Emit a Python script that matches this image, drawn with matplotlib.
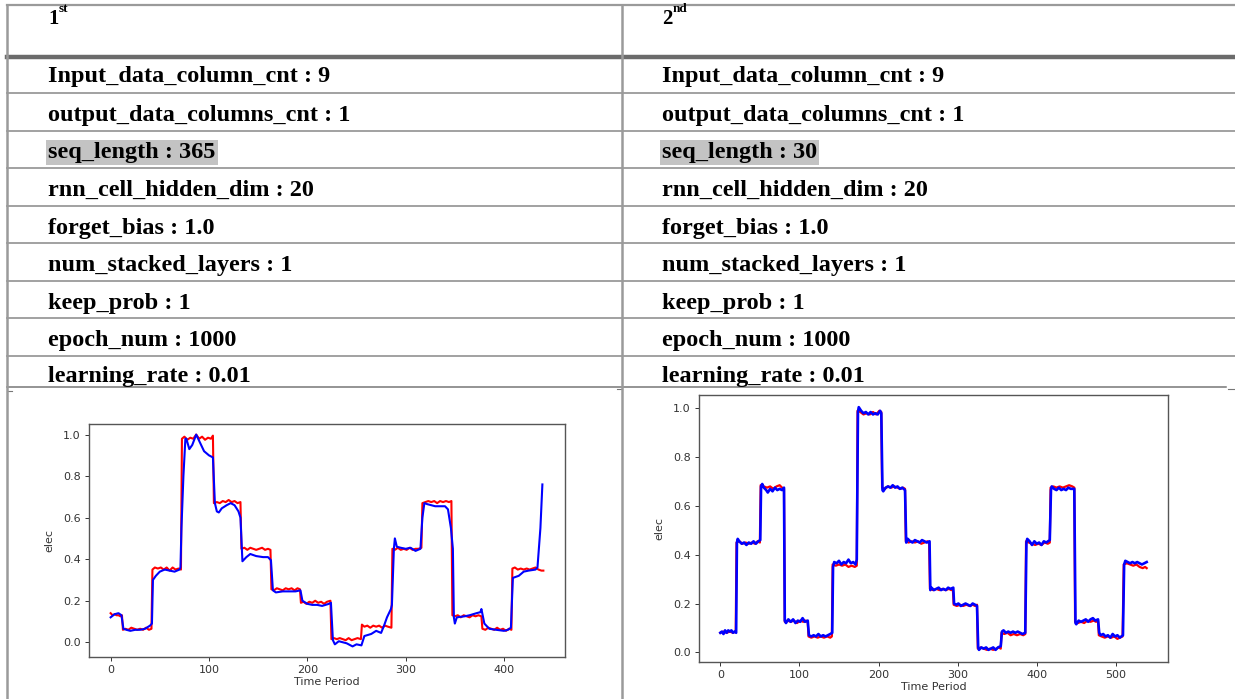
import matplotlib
matplotlib.use("Agg")
import matplotlib.pyplot as plt
from matplotlib.lines import Line2D

# ---- table text ----
headers = ["1", "2"]
header_sups = ["st", "nd"]
param_names = ["Input_data_column_cnt", "output_data_columns_cnt", "seq_length",
               "rnn_cell_hidden_dim", "forget_bias", "num_stacked_layers",
               "keep_prob", "epoch_num", "learning_rate"]
params_first = ["9", "1", "365", "20", "1.0", "1", "1", "1000", "0.01"]
params_second = ["9", "1", "30", "20", "1.0", "1", "1", "1000", "0.01"]
highlight_row = "seq_length"

# ---- left plot (seq_length 365) ----
left_actual_t = [0, 2, 4, 6, 8, 10, 11.5,
                 12.5, 15, 18, 21, 24, 27, 30, 33, 36, 39, 41.5,
                 42.5, 45, 48, 51, 54, 57, 60, 63, 66, 69, 71.5,
                 72.5, 75, 78, 81, 84, 87, 90, 93, 96, 99, 102, 104,
                 105, 108, 111, 114, 117, 120, 123, 126, 129, 132,
                 133, 136, 139, 142, 145, 148, 151, 154, 157, 160, 162.5,
                 163.5, 166, 169, 172, 175, 178, 181, 184, 187, 190, 192.5,
                 193.5, 196, 199, 202, 205, 208, 211, 214, 217, 220, 223.5,
                 224.5, 227, 230, 233, 236, 239, 242, 245, 248, 251, 254.5,
                 255.5, 258, 261, 264, 267, 270, 273, 276, 279, 282, 285.5,
                 286.5, 289, 292, 295, 298, 301, 304, 307, 310, 313, 316,
                 317, 320, 323, 326, 329, 332, 335, 338, 341, 344, 346.5,
                 347.5, 350, 353, 356, 359, 362, 365, 368, 371, 374, 377,
                 378, 381, 384, 387, 390, 393, 396, 399, 402, 405, 407.5,
                 408.5, 411, 414, 417, 420, 423, 426, 429, 432, 435, 438, 440]
left_actual = [0.14, 0.13, 0.135, 0.13, 0.13, 0.125, 0.13,
               0.06, 0.065, 0.06, 0.07, 0.065, 0.06, 0.065, 0.06, 0.07, 0.06, 0.065,
               0.35, 0.36, 0.355, 0.36, 0.35, 0.36, 0.345, 0.36, 0.35, 0.355, 0.35,
               0.98, 0.99, 0.975, 0.985, 0.98, 1.0, 0.98, 0.99, 0.975, 0.985, 0.98, 0.995,
               0.67, 0.675, 0.67, 0.68, 0.675, 0.685, 0.675, 0.68, 0.67, 0.675,
               0.45, 0.455, 0.445, 0.455, 0.45, 0.445, 0.45, 0.455, 0.445, 0.45, 0.445,
               0.255, 0.25, 0.26, 0.255, 0.25, 0.26, 0.255, 0.26, 0.25, 0.26, 0.255,
               0.19, 0.195, 0.185, 0.195, 0.19, 0.2, 0.19, 0.195, 0.185, 0.195, 0.2,
               0.015, 0.02, 0.015, 0.02, 0.015, 0.01, 0.02, 0.01, 0.015, 0.02, 0.015,
               0.085, 0.075, 0.08, 0.07, 0.08, 0.075, 0.08, 0.07, 0.08, 0.075, 0.07,
               0.45, 0.445, 0.455, 0.445, 0.45, 0.445, 0.455, 0.445, 0.45, 0.45, 0.455,
               0.67, 0.675, 0.68, 0.675, 0.68, 0.67, 0.68, 0.675, 0.68, 0.675, 0.68,
               0.13, 0.125, 0.13, 0.12, 0.13, 0.125, 0.12, 0.13, 0.125, 0.13, 0.125,
               0.065, 0.06, 0.07, 0.065, 0.06, 0.07, 0.06, 0.065, 0.055, 0.065, 0.06,
               0.355, 0.36, 0.35, 0.355, 0.35, 0.355, 0.35, 0.355, 0.36, 0.35, 0.345, 0.345]

left_pred_t = [0, 4, 8, 11, 13, 16, 20, 25, 30, 35, 40, 42,
               43, 46, 50, 55, 60, 65, 70, 71, 72, 74, 76,
               77, 80, 83, 87, 90, 95, 100, 104, 106, 108, 110, 113, 118, 122, 126, 130, 132,
               134, 138, 142, 148, 155, 160, 163, 165, 168, 175, 182, 188, 193,
               195, 200, 205, 210, 215, 222, 224, 226, 228, 232, 240, 246, 250, 255,
               258, 265, 270, 275, 278, 281, 285, 286, 288, 289, 291, 295, 300, 305, 310, 315,
               317, 319, 322, 330, 340, 343, 346, 348, 349, 350, 352, 360, 365, 372, 376, 377,
               380, 385, 392, 400, 404, 407, 409, 415, 420, 425, 432, 434, 437, 439]
left_pred = [0.12, 0.135, 0.14, 0.13, 0.065, 0.06, 0.055, 0.06, 0.06, 0.065, 0.08, 0.09,
             0.3, 0.32, 0.34, 0.35, 0.345, 0.34, 0.35, 0.36, 0.55, 0.8, 0.98,
             0.98, 0.93, 0.95, 1.0, 0.97, 0.92, 0.9, 0.89, 0.67, 0.63, 0.625, 0.645, 0.66, 0.67, 0.66, 0.63, 0.6,
             0.39, 0.41, 0.425, 0.415, 0.41, 0.41, 0.395, 0.25, 0.24, 0.245, 0.245, 0.245, 0.25,
             0.2, 0.185, 0.18, 0.18, 0.175, 0.185, 0.19, 0.01, -0.01, 0.005, -0.005, -0.02, -0.01, -0.015,
             0.03, 0.04, 0.055, 0.045, 0.08, 0.12, 0.16, 0.18, 0.45, 0.5, 0.46, 0.455, 0.45, 0.455, 0.44, 0.45,
             0.6, 0.67, 0.665, 0.655, 0.655, 0.64, 0.55, 0.45, 0.12, 0.09, 0.12, 0.125, 0.13, 0.14, 0.145, 0.16,
             0.09, 0.065, 0.06, 0.055, 0.06, 0.07, 0.31, 0.32, 0.34, 0.345, 0.35, 0.36, 0.55, 0.76]

# ---- right plot (seq_length 30) ----
right_actual_t = [0, 4, 8, 12, 16, 19.5,
                  20.5, 24, 28, 32, 36, 40, 44, 47, 50,
                  51, 55, 59, 63, 67, 71, 75, 78, 80.5,
                  81.5, 85, 89, 93, 97, 101, 105, 108, 110.5,
                  111.5, 115, 119, 123, 127, 131, 135, 139, 141,
                  142, 146, 150, 154, 158, 162, 166, 170, 172.5,
                  173.5, 177, 181, 185, 189, 193, 197, 201, 203.5,
                  204.5, 208, 212, 216, 220, 224, 228, 231, 233.5,
                  234.5, 238, 242, 246, 250, 254, 258, 262, 264,
                  265, 269, 273, 277, 281, 285, 289, 292, 294,
                  295, 299, 303, 307, 311, 315, 319, 322, 324.5,
                  325.5, 329, 333, 337, 341, 345, 349, 352, 354.5,
                  355.5, 359, 363, 367, 371, 375, 379, 383, 385.5,
                  386.5, 390, 394, 398, 402, 406, 410, 414, 416.5,
                  417.5, 421, 425, 429, 433, 437, 441, 445, 447.5,
                  448.5, 452, 456, 460, 464, 468, 472, 475, 477.5,
                  478.5, 482, 486, 490, 494, 498, 502, 505, 508.5,
                  510, 514, 518, 522, 526, 530, 534, 537, 539]
right_actual = [0.08, 0.085, 0.08, 0.085, 0.08, 0.085,
                0.45, 0.455, 0.445, 0.45, 0.445, 0.45, 0.445, 0.455, 0.45,
                0.685, 0.68, 0.675, 0.68, 0.67, 0.68, 0.685, 0.675, 0.67,
                0.125, 0.13, 0.125, 0.13, 0.12, 0.13, 0.125, 0.13, 0.125,
                0.065, 0.06, 0.065, 0.06, 0.065, 0.06, 0.065, 0.06, 0.065,
                0.36, 0.355, 0.36, 0.355, 0.36, 0.35, 0.355, 0.35, 0.355,
                0.99, 0.985, 0.975, 0.98, 0.975, 0.985, 0.975, 0.99, 0.985,
                0.675, 0.67, 0.68, 0.675, 0.68, 0.675, 0.67, 0.675, 0.67,
                0.455, 0.45, 0.455, 0.45, 0.455, 0.445, 0.45, 0.455, 0.45,
                0.26, 0.255, 0.26, 0.255, 0.26, 0.255, 0.26, 0.255, 0.26,
                0.195, 0.19, 0.195, 0.19, 0.195, 0.19, 0.195, 0.19, 0.195,
                0.015, 0.02, 0.015, 0.01, 0.015, 0.01, 0.015, 0.02, 0.015,
                0.08, 0.075, 0.08, 0.07, 0.075, 0.07, 0.075, 0.07, 0.075,
                0.455, 0.45, 0.445, 0.44, 0.445, 0.44, 0.45, 0.445, 0.45,
                0.675, 0.68, 0.675, 0.68, 0.675, 0.68, 0.685, 0.68, 0.675,
                0.125, 0.12, 0.125, 0.12, 0.13, 0.125, 0.13, 0.125, 0.13,
                0.07, 0.065, 0.06, 0.065, 0.06, 0.065, 0.055, 0.06, 0.065,
                0.36, 0.365, 0.36, 0.355, 0.36, 0.35, 0.345, 0.35, 0.345]

right_pred_t = [0, 2, 4, 6, 8, 10, 12, 14, 16, 18, 20,
                21, 22, 24, 27, 30, 33, 36, 39, 42, 45, 48, 50.5,
                51.5, 53, 55, 58, 60, 63, 66, 69, 72, 75, 78, 80.5,
                81.5, 83, 86, 89, 92, 95, 98, 101, 104, 107, 110.5,
                112, 115, 118, 121, 124, 127, 130, 133, 136, 139, 141.5,
                142.5, 144, 147, 150, 153, 156, 159, 162, 165, 168, 171, 172.5,
                174, 175, 178, 181, 184, 187, 190, 193, 196, 199, 202, 203.5,
                205, 206, 209, 212, 215, 218, 221, 224, 227, 230, 233.5,
                235, 237, 240, 243, 246, 249, 252, 255, 258, 261, 264.5,
                265.5, 267, 270, 273, 276, 279, 282, 285, 288, 291, 294.5,
                295.5, 298, 301, 304, 307, 310, 313, 316, 319, 322, 324.5,
                326, 327, 330, 333, 336, 339, 342, 345, 348, 351, 354.5,
                356, 358, 361, 364, 367, 370, 373, 376, 379, 382, 385.5,
                387, 388, 391, 394, 397, 400, 403, 406, 409, 412, 416.5,
                418, 419, 422, 425, 428, 431, 434, 437, 440, 443, 447.5,
                449, 450, 453, 456, 459, 462, 465, 468, 471, 474, 477.5,
                479, 481, 484, 487, 490, 493, 496, 499, 502, 505, 509,
                510.5, 512, 515, 518, 521, 524, 527, 530, 533, 536, 539]
right_pred = [0.08, 0.085, 0.075, 0.09, 0.08, 0.09, 0.085, 0.09, 0.08, 0.085, 0.08,
              0.45, 0.465, 0.455, 0.445, 0.45, 0.44, 0.45, 0.445, 0.455, 0.445, 0.455, 0.46,
              0.68, 0.69, 0.675, 0.665, 0.655, 0.67, 0.66, 0.675, 0.665, 0.67, 0.665, 0.675,
              0.13, 0.12, 0.135, 0.125, 0.135, 0.12, 0.13, 0.125, 0.14, 0.125, 0.13,
              0.07, 0.065, 0.07, 0.065, 0.075, 0.065, 0.07, 0.065, 0.07, 0.075, 0.08,
              0.35, 0.37, 0.365, 0.375, 0.36, 0.37, 0.365, 0.38, 0.365, 0.37, 0.36, 0.38,
              0.985, 1.005, 0.99, 0.98, 0.985, 0.975, 0.985, 0.975, 0.98, 0.975, 0.99, 0.98,
              0.665, 0.66, 0.675, 0.68, 0.675, 0.685, 0.675, 0.68, 0.67, 0.675, 0.665,
              0.45, 0.465, 0.455, 0.45, 0.46, 0.455, 0.45, 0.46, 0.455, 0.45, 0.455,
              0.255, 0.265, 0.255, 0.26, 0.265, 0.255, 0.26, 0.255, 0.265, 0.26, 0.265,
              0.2, 0.195, 0.2, 0.19, 0.195, 0.2, 0.195, 0.19, 0.2, 0.195, 0.19,
              0.02, 0.01, 0.02, 0.015, 0.02, 0.01, 0.015, 0.02, 0.01, 0.02, 0.025,
              0.085, 0.09, 0.08, 0.085, 0.08, 0.085, 0.08, 0.085, 0.08, 0.075, 0.08,
              0.45, 0.465, 0.455, 0.44, 0.455, 0.445, 0.45, 0.44, 0.455, 0.45, 0.46,
              0.665, 0.68, 0.67, 0.665, 0.675, 0.665, 0.67, 0.665, 0.675, 0.67, 0.67,
              0.12, 0.115, 0.13, 0.125, 0.13, 0.135, 0.125, 0.135, 0.14, 0.13, 0.135,
              0.08, 0.07, 0.075, 0.065, 0.07, 0.06, 0.075, 0.065, 0.07, 0.06, 0.07,
              0.36, 0.375, 0.37, 0.365, 0.37, 0.365, 0.37, 0.365, 0.36, 0.365, 0.37]

W, H = 1235, 699
fig = plt.figure(figsize=(W / 100, H / 100), dpi=100)

# background axes in pixel units for the table
bg = fig.add_axes([0, 0, 1, 1])
bg.set_xlim(0, W)
bg.set_ylim(H, 0)
bg.axis("off")

line_gray = "#9a9a9a"
row_lines = [93, 131, 168, 206, 243, 281, 318, 356]
bg.add_line(Line2D([7, W], [5, 5], color=line_gray, lw=1.6))
bg.add_line(Line2D([7, W], [57, 57], color="#6b6b6b", lw=3.2))
for y in row_lines:
    bg.add_line(Line2D([7, W], [y, y], color=line_gray, lw=1.3))
bg.add_line(Line2D([7, 1226], [387, 387], color="#777777", lw=1.1))
# little offset cell-border stubs under the last row
bg.add_line(Line2D([7, 12], [391, 391], color="#777777", lw=0.8))
bg.add_line(Line2D([617, 622], [389, 389], color="#777777", lw=0.8))
bg.add_line(Line2D([1228, W], [389, 389], color="#777777", lw=0.8))
bg.add_line(Line2D([7, 7], [5, H], color=line_gray, lw=1.8))
bg.add_line(Line2D([622, 622], [5, H], color=line_gray, lw=1.8))

serif = "Liberation Serif"
col_x = [48, 662]
row_base = [82, 121, 158, 196, 234, 271, 309, 346, 382]

for cx, head, sup, vals in zip(col_x, headers, header_sups, [params_first, params_second]):
    t = bg.text(cx, 24, head, fontsize=15, family=serif, weight="bold", va="baseline")
    bg.annotate(sup, xy=(1, 0.72), xycoords=t, fontsize=9.5, family=serif,
                weight="bold", va="bottom", ha="left")
    for name, val, y in zip(param_names, vals, row_base):
        box = None
        if name == highlight_row:
            box = dict(facecolor="#c3c3c3", edgecolor="none", pad=1.6)
        bg.text(cx, y, f"{name} : {val}", fontsize=17.5, family=serif,
                weight="bold", va="baseline", bbox=box)


def px_axes(x0, y0, x1, y1):
    return fig.add_axes([x0 / W, 1 - y1 / H, (x1 - x0) / W, (y1 - y0) / H])


def style(ax):
    for s in ax.spines.values():
        s.set_color("#555555")
        s.set_linewidth(1.0)
    ax.tick_params(labelsize=8, length=3, width=0.7, colors="#333333", pad=3)
    ax.set_xlabel("Time Period", fontsize=8, color="#333333", labelpad=1)
    ax.set_ylabel("elec", fontsize=8, color="#333333", labelpad=6)


ax1 = px_axes(89, 424, 565, 657)
ax1.plot(left_actual_t, left_actual, color="red", lw=1.5)
ax1.plot(left_pred_t, left_pred, color="blue", lw=1.5)
style(ax1)

ax2 = px_axes(699, 395, 1168, 662)
ax2.plot(right_actual_t, right_actual, color="red", lw=1.6)
ax2.plot(right_pred_t, right_pred, color="blue", lw=1.9)
style(ax2)

fig.savefig("out.png", dpi=100)
